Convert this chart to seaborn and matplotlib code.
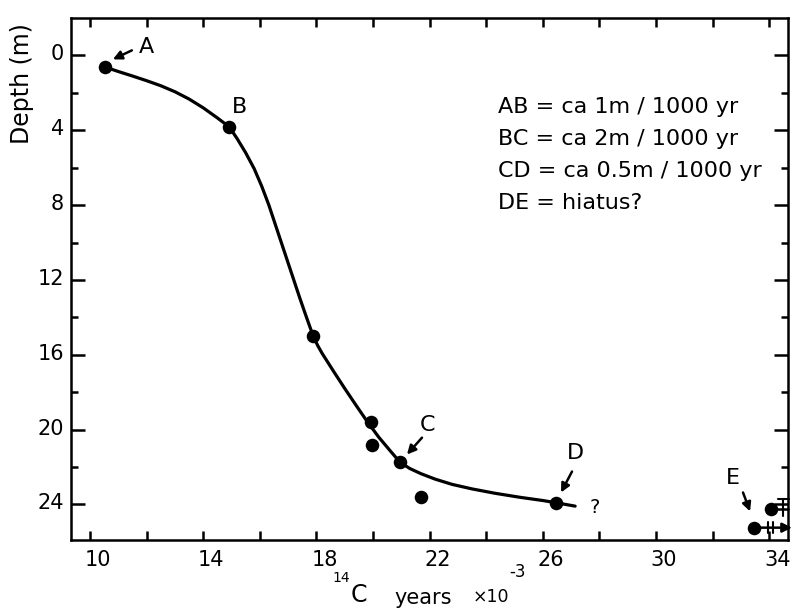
import numpy as np
import pandas as pd
import matplotlib
matplotlib.use("Agg")
import matplotlib.pyplot as plt
import matplotlib.transforms as mtransforms
import seaborn as sns

# ---- data ----
# dated samples (14C kyr, depth m)
age_kyr = [10.53, 14.92, 17.89, 19.92, 19.95, 20.95, 21.69, 26.47]
depth_m = [0.62, 3.82, 15.02, 19.61, 20.80, 21.74, 23.59, 23.91]
# dates beyond the range (E)
e_age = [34.05, 33.46]
e_depth = [24.23, 25.24]
# hand-drawn age-depth curve
curve_age = [10.53, 11.00, 11.50, 12.00, 12.50, 13.00, 13.50, 14.00, 14.50, 14.92,
             15.20, 15.50, 15.80, 16.07, 16.32, 16.54, 16.76, 16.98, 17.20, 17.42,
             17.65, 17.89, 18.05, 18.20, 18.60, 19.00, 19.40, 19.80, 20.20, 20.60,
             20.95, 21.30, 21.70, 22.20, 22.80, 23.50, 24.30, 25.20, 26.00, 26.47,
             27.14]
curve_depth = [0.62, 0.86, 1.10, 1.35, 1.62, 1.94, 2.33, 2.80, 3.34, 3.82,
               4.45, 5.20, 6.05, 7.00, 8.00, 9.00, 10.00, 11.00, 12.00, 13.00,
               14.00, 15.02, 15.52, 15.92, 16.87, 17.80, 18.70, 19.58, 20.40, 21.12,
               21.74, 22.08, 22.36, 22.65, 22.93, 23.17, 23.40, 23.62, 23.79, 23.91,
               24.09]
# letter labels and where they sit
letters = ["A", "B", "C", "D", "E"]
letter_x = [12.01, 15.30, 21.91, 27.14, 32.72]
letter_y = [-0.43, 2.77, 19.73, 21.23, 22.56]
rates = ["AB = ca 1m / 1000 yr", "BC = ca 2m / 1000 yr",
         "CD = ca 0.5m / 1000 yr", "DE = hiatus?"]
x_major = [10, 14, 18, 22, 26, 30, 34]
y_major = [0, 4, 8, 12, 16, 20, 24]

sns.set_theme(style="white")
plt.rcParams["font.family"] = ["DejaVu Sans"]
plt.rcParams["text.color"] = "black"
plt.rcParams["axes.labelcolor"] = "black"

fig = plt.figure(figsize=(7.96, 6.11), dpi=100)
ax = fig.add_axes([71 / 796, 1 - 540 / 611, (788 - 71) / 796, (540 - 18) / 611])

samples = pd.DataFrame({"age": age_kyr, "depth": depth_m})
curve = pd.DataFrame({"age": curve_age, "depth": curve_depth})
edates = pd.DataFrame({"age": e_age, "depth": e_depth})

sns.lineplot(data=curve, x="age", y="depth", sort=False, color="black",
             linewidth=2.3, ax=ax, zorder=2)
sns.scatterplot(data=samples, x="age", y="depth", color="black", s=95,
                edgecolor="black", linewidth=0, ax=ax, zorder=3)
sns.scatterplot(data=edates, x="age", y="depth", color="black", s=95,
                edgecolor="black", linewidth=0, ax=ax, zorder=3, clip_on=False)

ax.set_xlim(9.33, 34.66)
ax.set_ylim(25.9, -2.0)

# ticks
ax.set_xticks(x_major)
ax.set_xticks(np.arange(12, 34, 4), minor=True)
ax.set_yticks(y_major)
ax.set_yticks(np.arange(2, 26, 4), minor=True)
ax.set_xticklabels([str(v) for v in x_major])
ax.set_yticklabels([str(v) for v in y_major])
ax.tick_params(axis="both", which="both", direction="in", colors="black",
               labelcolor="black", labelsize=15, width=1.8)
ax.tick_params(axis="x", which="both", length=6.5, top=True, bottom=True, pad=7)
ax.tick_params(axis="y", which="major", length=10, left=True, right=True, pad=5)
ax.tick_params(axis="y", which="minor", length=5, left=True, right=True)
xshift = mtransforms.ScaledTranslation(8 / 100, 0, fig.dpi_scale_trans)
for lab in ax.get_xticklabels():
    lab.set_transform(lab.get_transform() + xshift)
yshift = mtransforms.ScaledTranslation(0, 3 / 100, fig.dpi_scale_trans)
for lab in ax.get_yticklabels():
    lab.set_transform(lab.get_transform() + yshift)
for s in ax.spines.values():
    s.set_color("black")
    s.set_linewidth(1.8)
ax.set_xlabel("")
ax.set_ylabel("")

# letter labels with arrows
for lt, lx, ly in zip(letters, letter_x, letter_y):
    ax.text(lx, ly, lt, fontsize=16, ha="center", va="center")
arrow_kw = dict(arrowstyle="-|>", color="black", lw=1.8, mutation_scale=13,
                shrinkA=0, shrinkB=0)
ax.annotate("", xy=(10.81, 0.21), xytext=(11.48, -0.27), arrowprops=arrow_kw)
ax.annotate("", xy=(21.20, 21.33), xytext=(21.73, 20.43), arrowprops=arrow_kw)
ax.annotate("", xy=(26.64, 23.36), xytext=(27.03, 22.24), arrowprops=arrow_kw)
ax.annotate("", xy=(33.32, 24.37), xytext=(33.07, 23.36), arrowprops=arrow_kw)
ax.text(27.84, 24.16, "?", fontsize=14, ha="center", va="center")

# E extensions
ax.annotate("", xy=(34.80, e_depth[1]), xytext=(e_age[1], e_depth[1]),
            arrowprops=dict(arrowstyle="-|>", color="black", lw=1.8,
                            mutation_scale=14, shrinkA=0, shrinkB=0),
            annotation_clip=False)
for bx in (e_age[1] + 0.5, e_age[1] + 0.68):
    ax.plot([bx, bx], [e_depth[1] - 0.28, e_depth[1] + 0.28], color="black",
            lw=1.5, clip_on=False)
ax.plot([e_age[0], 34.66], [e_depth[0], e_depth[0]], color="black", lw=1.8,
        clip_on=False)
ax.plot([34.49, 34.49], [e_depth[0] - 0.5, e_depth[0] + 0.4], color="black",
        lw=1.5, clip_on=False)
ax.plot([34.30, 34.70], [e_depth[0] - 0.5, e_depth[0] - 0.5], color="black",
        lw=1.5, clip_on=False)

# rate text
for i, r in enumerate(rates):
    ax.text(24.42, 2.75 + i * 1.71, r, fontsize=16, ha="left", va="center")

# axis labels
fig.text(22 / 796, 1 - 84 / 611, "Depth (m)", rotation=90, fontsize=17,
         ha="center", va="center")
fig.text(341 / 796, 1 - 578 / 611, "14", fontsize=10, ha="center", va="center")
fig.text(359 / 796, 1 - 595 / 611, "C", fontsize=17, ha="center", va="center")
fig.text(423 / 796, 1 - 598 / 611, "years", fontsize=15, ha="center", va="center")
fig.text(491 / 796, 1 - 597 / 611, "×10", fontsize=12.5, ha="center", va="center")
fig.text(517 / 796, 1 - 572 / 611, "-3", fontsize=12, ha="center", va="center")

fig.savefig("out.png", dpi=100)
